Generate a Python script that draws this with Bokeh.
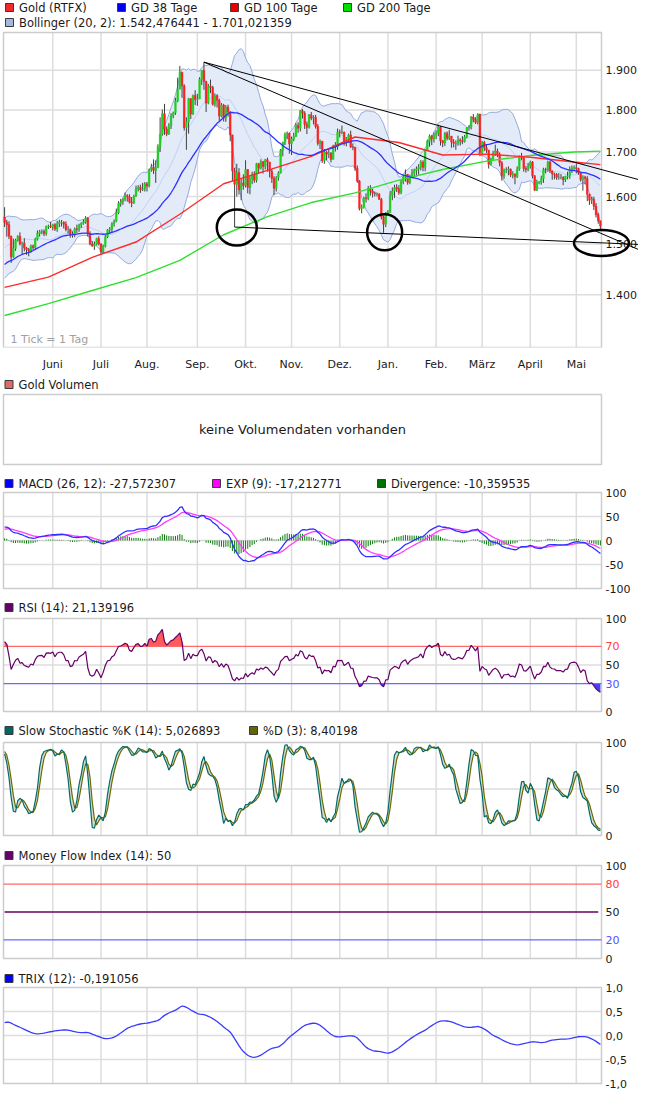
import numpy as np
import pandas as pd
from bokeh.plotting import figure
from bokeh.layouts import column
from bokeh.models import Range1d, FixedTicker, ColumnDataSource
from bokeh.embed import file_html
from bokeh.resources import INLINE
from bokeh.core.properties import value

# ---------------------------------------------------------------- data
first_day = "2011-02-01"      # warm-up for the indicators (not shown)
visible_from = "2011-05-02"
last_day = "2012-05-16"

close = [
    1339,1333,1353,1348,1349,1363,1365,1364,1360,1361,1374,1375,1385,1389,1404,1401,1413,1408,1410,1410,
    1433,1437,1416,1428,1433,1429,1432,1411,1420,1423,1394,1397,1404,1419,1427,1430,1438,1438,1430,1417,1421,1424,1439,
    1428,1436,1451,1459,1459,1474,1465,1455,1457,1473,1486,1492,1495,1503,1505,1504,1507,1503,1520,1535,1556,
    1545,1540,1516,1474,1491,1508,1516,1500,1502,1492,1489,1486,1496,1493,1510,1522,1525,1526,1521,1536,1537,1536,
    1540,1531,1542,1545,1545,1541,1530,1530,1518,1520,1531,1530,1539,1543,1546,1553,1521,1500,1496,1499,1511,1500,
    1484,1496,1515,1529,1530,1542,1547,1565,1585,1588,1594,1602,1600,1588,1586,1601,1617,1620,1615,1616,1628,
    1623,1660,1665,1658,1664,1713,1742,1791,1754,1742,1762,1786,1793,1822,1852,1895,1860,1757,1771,1828,1790,1836,1826,
    1827,1877,1900,1871,1817,1859,1856,1814,1835,1824,1785,1812,1780,1807,1795,1740,1657,1627,1653,1615,1630,1624,
    1660,1620,1640,1650,1636,1673,1663,1678,1667,1682,1677,1656,1640,1618,1642,1652,1704,1722,1741,1744,1719,
    1730,1736,1763,1756,1798,1792,1765,1758,1788,1780,1782,1760,1720,1725,1680,1700,1695,1697,1683,1714,1712,1747,
    1746,1747,1724,1731,1740,1712,1711,1663,1634,1574,1578,1597,1596,1618,1612,1608,1606,1606,1594,1556,1541,1565,
    1566,1603,1612,1620,1617,1609,1633,1643,1649,1631,1645,1652,1658,1661,1665,1677,1665,1704,1725,1737,1730,1740,
    1745,1759,1726,1721,1744,1732,1737,1723,1720,1721,1728,1726,1724,1735,1757,1758,1783,1777,1770,1789,1699,
    1722,1710,1704,1672,1684,1697,1702,1694,1675,1645,1659,1659,1661,1648,1650,1644,1661,1690,1686,1662,1660,1668,
    1677,1646,1614,1631,1631,1639,1660,1659,1677,1657,1650,1649,1642,1642,1642,1637,1644,1645,1660,1663,1664,
    1662,1652,1637,1643,1640,1605,1592,1594,1579,1561,1548,1537,
]
high = [
    1346,1343,1356,1359,1356,1365,1368,1369,1375,1366,1376,1381,1389,1392,1408,1412,1415,1416,1415,1414,
    1436,1440,1438,1434,1445,1437,1436,1433,1425,1433,1425,1404,1408,1423,1436,1435,1440,1447,1439,1430,1424,1428,1440,
    1445,1438,1454,1465,1465,1477,1476,1468,1461,1475,1487,1497,1497,1505,1509,1507,1518,1509,1526,1536,1569,
    1577,1550,1547,1517,1511,1511,1518,1524,1505,1512,1494,1492,1499,1499,1513,1528,1529,1530,1530,1538,1540,1546,
    1542,1543,1548,1550,1550,1547,1547,1537,1532,1526,1534,1540,1542,1545,1551,1558,1556,1526,1506,1505,1513,1516,
    1502,1499,1519,1531,1535,1545,1551,1574,1590,1595,1597,1609,1605,1605,1599,1604,1624,1625,1626,1630,1632,
    1632,1662,1673,1683,1681,1718,1782,1801,1815,1760,1768,1792,1796,1830,1881,1911,1894,1864,1782,1830,1828,1838,1849,
    1840,1882,1900,1921,1873,1865,1876,1860,1841,1839,1828,1817,1815,1812,1813,1797,1739,1664,1673,1663,1640,1649,
    1681,1660,1647,1655,1656,1675,1675,1683,1678,1684,1687,1677,1661,1645,1645,1656,1707,1724,1746,1748,1745,
    1736,1745,1768,1770,1800,1802,1797,1772,1790,1795,1787,1788,1766,1729,1725,1707,1702,1705,1700,1717,1723,1755,
    1753,1762,1747,1735,1743,1750,1720,1712,1669,1636,1583,1600,1607,1623,1625,1617,1611,1609,1605,1597,1559,1567,
    1571,1612,1620,1626,1627,1625,1638,1647,1660,1649,1648,1661,1662,1667,1672,1681,1681,1706,1729,1741,1740,1746,
    1751,1764,1761,1728,1747,1748,1752,1737,1730,1727,1738,1732,1737,1740,1758,1763,1785,1790,1782,1792,1791,
    1726,1726,1716,1705,1687,1703,1717,1708,1699,1679,1662,1665,1667,1662,1656,1651,1667,1692,1698,1690,1668,1675,
    1680,1679,1647,1637,1634,1646,1664,1664,1680,1680,1655,1653,1652,1652,1650,1645,1646,1655,1667,1669,1669,
    1674,1664,1653,1647,1646,1645,1606,1599,1600,1586,1565,1548,
]
low = [
    1330,1328,1330,1345,1340,1345,1357,1355,1354,1354,1358,1369,1373,1381,1388,1395,1398,1403,1400,1399,
    1408,1430,1412,1413,1424,1423,1424,1407,1400,1415,1380,1385,1393,1400,1418,1425,1428,1434,1423,1415,1409,1416,1421,
    1418,1427,1431,1449,1452,1458,1462,1448,1449,1455,1471,1475,1487,1493,1498,1501,1500,1497,1500,1504,1530,
    1535,1515,1510,1462,1472,1486,1505,1497,1478,1485,1478,1475,1482,1488,1490,1507,1515,1520,1516,1517,1531,1533,
    1528,1527,1525,1535,1536,1532,1526,1521,1513,1513,1514,1522,1525,1533,1540,1542,1515,1497,1494,1488,1497,1497,
    1478,1482,1493,1512,1522,1523,1536,1545,1562,1578,1582,1590,1589,1585,1577,1584,1599,1611,1608,1612,1611,
    1611,1620,1655,1650,1630,1664,1700,1738,1740,1737,1740,1754,1780,1788,1819,1851,1830,1750,1705,1743,1778,1788,1812,
    1810,1827,1862,1850,1795,1814,1842,1811,1808,1806,1774,1782,1772,1771,1784,1725,1634,1535,1600,1604,1592,1615,
    1620,1607,1605,1627,1630,1631,1650,1660,1651,1660,1655,1642,1630,1603,1611,1635,1651,1690,1716,1730,1696,
    1693,1725,1735,1745,1748,1779,1754,1742,1755,1775,1765,1755,1715,1707,1675,1673,1681,1686,1676,1685,1701,1705,
    1734,1742,1715,1713,1722,1709,1704,1657,1630,1570,1564,1574,1587,1592,1602,1598,1600,1600,1593,1551,1523,1535,
    1560,1565,1592,1597,1610,1604,1605,1627,1633,1626,1627,1642,1643,1644,1648,1658,1656,1656,1704,1712,1716,1722,
    1730,1737,1715,1711,1714,1727,1728,1710,1711,1705,1715,1715,1718,1722,1732,1750,1753,1770,1766,1765,1690,
    1692,1702,1698,1662,1669,1680,1691,1688,1667,1635,1639,1652,1647,1643,1640,1627,1641,1657,1681,1655,1653,1656,
    1662,1640,1612,1612,1627,1626,1630,1651,1655,1652,1637,1638,1637,1637,1638,1625,1632,1638,1639,1652,1659,
    1651,1648,1633,1613,1627,1590,1582,1584,1571,1555,1542,1527,
]

# GD 100 / GD 200 (day index from 2 May 2011)
ma_idx = [0, 20, 40, 60, 80, 100, 120, 140, 160, 180, 200, 220, 240, 260, 272]
gd100 = [1414, 1434, 1473, 1504, 1562, 1628, 1658, 1690, 1735, 1722, 1693, 1695, 1688, 1677, 1671]
gd200 = [1361, 1383, 1408, 1433, 1467, 1519, 1557, 1587, 1608, 1636, 1660, 1679, 1692, 1700, 1702]

month_labels = ["Juni", "Juli", "Aug.", "Sep.", "Okt.", "Nov.", "Dez.", "Jan.", "Feb.", "März", "April", "Mai"]
price_range = [1303, 2000]
price_ticks = [1400, 1500, 1600, 1700, 1800, 1900]
price_tick_labels = ["1.400", "1.500", "1.600", "1.700", "1.800", "1.900"]
macd_ticks = [-100, -50, 0, 50, 100]
macd_tick_labels = ["-100", "-50", "0", "50", "100"]
pct_ticks = [100, 50, 0]
rsi_ticks = [100, 70, 50, 30, 0]
mfi_ticks = [100, 80, 50, 20, 0]
trix_ticks = [-1.0, -0.5, 0.0, 0.5, 1.0]
trix_tick_labels = ["-1,0", "-0,5", "0,0", "0,5", "1,0"]
rsi_levels = [70, 30]
mfi_levels = [80, 20]
mfi_value = 50

# hand-drawn trend lines and rings (day index, price)
trend_x0 = [91, 91, 105]
trend_y0 = [1921, 1921, 1535]
trend_x1 = [295, 295, 295]
trend_y1 = [1630, 1478, 1498]
ring_x = [106, 173.5, 272.5]
ring_y = [1534, 1524, 1502]
ring_w = [40, 35, 55]
ring_h = [36, 36, 26]

txt_gold = "Gold (RTFX)"
txt_gd38 = "GD 38 Tage"
txt_gd100 = "GD 100 Tage"
txt_gd200 = "GD 200 Tage"
txt_boll = "Bollinger (20, 2): 1.542,476441 - 1.701,021359"
txt_vol = "Gold Volumen"
txt_novol = "keine Volumendaten vorhanden"
txt_macd = "MACD (26, 12): -27,572307"
txt_exp = "EXP (9): -17,212771"
txt_div = "Divergence: -10,359535"
txt_rsi = "RSI (14): 21,139196"
txt_stk = "Slow Stochastic %K (14): 5,026893"
txt_std = "%D (3): 8,40198"
txt_mfi = "Money Flow Index (14): 50"
txt_trix = "TRIX (12): -0,191056"
txt_tick = "1 Tick = 1 Tag"

# ---------------------------------------------------------------- indicators
dates = pd.bdate_range(first_day, last_day)
assert len(dates) == len(close) == len(high) == len(low)
start = int(np.searchsorted(dates, pd.Timestamp(visible_from)))
x_all = np.arange(len(dates)) - start
mstart = [i for i in range(start + 1, len(dates)) if dates[i].month != dates[i - 1].month]
month_idx = [int(x_all[i]) for i in mstart]

c = np.array(close, float)
o = np.r_[c[0], c[:-1]]
h = np.maximum(np.array(high, float), np.maximum(o, c))
l = np.minimum(np.array(low, float), np.minimum(o, c))
cs = pd.Series(c)


def ema(s, n):
    return pd.Series(s).ewm(span=n, adjust=False).mean().values


gd38 = cs.rolling(38).mean().values
bb_mid = cs.rolling(20).mean().values
bb_sd = cs.rolling(20).std(ddof=0).values
bb_up = bb_mid + 2 * bb_sd
bb_lo = bb_mid - 2 * bb_sd
macd = ema(c, 12) - ema(c, 26)
sig = ema(macd, 9)
div = macd - sig
d = np.diff(c, prepend=c[0])
ag = pd.Series(np.where(d > 0, d, 0.0)).ewm(alpha=1 / 14, adjust=False).mean()
al = pd.Series(np.where(d < 0, -d, 0.0)).ewm(alpha=1 / 14, adjust=False).mean()
rsi = (100 - 100 / (1 + ag / al)).values
hh = pd.Series(h).rolling(14).max()
ll = pd.Series(l).rolling(14).min()
fk = 100 * (cs - ll) / (hh - ll)
sk_s = fk.rolling(3).mean()
sdd = sk_s.rolling(3).mean().values
sk = sk_s.values
e3 = ema(ema(ema(c, 12), 12), 12)
trix = np.r_[np.nan, 100 * (e3[1:] / e3[:-1] - 1)]

v = slice(start, None)
xv = x_all[v]

# ---------------------------------------------------------------- geometry / style
FONT = "DejaVu Sans"
FS = "11.5px"
TFS = "11px"
W = 638          # page width used
DL = 3           # left edge of the plotting box
FW = 598         # width of the plotting box
N = len(xv)
ppd = FW / N
x_end = N - 0.5
XA = -0.5 - DL / ppd
XB = x_end + (W - DL - FW) / ppd
GRID = "#dddddd"
FRAME = "#cccccc"
TXT = "#1a1a1a"
RED_T = "#ff4040"
BLUE_T = "#5050ff"


def X(px):
    return XA + px / ppd


class Section:
    def __init__(self, height, d_top, d_h, y0, y1, log=False, axis_h=0):
        frame_h = height - axis_h
        self.log = log
        self.y0, self.y1 = y0, y1
        a0, a1 = (np.log(y0), np.log(y1)) if log else (y0, y1)
        self.k = (a1 - a0) / d_h
        self.top = a1 + d_top * self.k
        bot = a0 - (frame_h - d_top - d_h) * self.k
        ys, ye = (np.exp(bot), np.exp(self.top)) if log else (bot, self.top)
        self.p = figure(frame_width=W, frame_height=frame_h,
                        x_range=Range1d(XA, XB), y_range=Range1d(ys, ye),
                        y_axis_type="log" if log else "linear",
                        x_axis_location="below" if axis_h else None, y_axis_location=None,
                        toolbar_location=None, output_backend="svg", title=None,
                        min_border_left=0, min_border_right=0, min_border_top=0,
                        min_border_bottom=axis_h)
        self.p.grid.visible = False
        self.p.outline_line_color = None

    def Y(self, py):
        val = self.top - py * self.k
        return float(np.exp(val)) if self.log else float(val)

    def box(self, yticks=(), vgrid=True):
        p = self.p
        if vgrid:
            p.segment(x0=month_idx, x1=month_idx, y0=self.y0, y1=self.y1,
                      line_color=GRID, line_width=1.5)
        if len(yticks):
            p.segment(x0=-0.5, x1=x_end, y0=list(yticks), y1=list(yticks),
                      line_color=GRID, line_width=1.5)
        p.quad(left=[-0.5], right=[x_end], bottom=[self.y0], top=[self.y1],
               fill_color=None, line_color=FRAME, line_width=1.5)

    def ylabels(self, ticks, labels, colors=None):
        colors = colors or [TXT] * len(ticks)
        self.p.text(x=[x_end + 4 / ppd] * len(ticks), y=list(ticks), text=list(labels),
                    text_color=colors, text_font=value(FONT), text_font_size=TFS,
                    text_baseline="middle", text_align="left")

    def legend(self, py, items):
        yy = self.Y(py)
        for sq, col, tx, txt in items:
            self.p.rect(x=[X(sq)], y=[yy], width=8, height=8, width_units="screen",
                        height_units="screen", fill_color=col, line_color="#3a3a3a", line_width=1)
            self.p.text(x=[X(tx)], y=[yy], text=[txt], text_font=value(FONT), text_font_size=FS,
                        text_baseline="middle", text_align="left", text_color=TXT)

    def hline(self, level, color, width=1.2, x0=-0.5, x1=None):
        self.p.segment(x0=[x0], x1=[x_end if x1 is None else x1], y0=[level], y1=[level],
                       line_color=color, line_width=width)


# ---------------------------------------------------------------- price section
s0 = Section(369, 32, 315, price_range[0], price_range[1], log=True, axis_h=22)
p0 = s0.p
s0.legend(7, [(9, "#ee2a2a", 18.5, txt_gold), (121, "#0000ee", 130.5, txt_gd38),
              (234, "#ee0000", 243.5, txt_gd100), (347, "#00dd00", 356.5, txt_gd200)])
s0.legend(22, [(9, "#a3b8e0", 18.5, txt_boll)])
s0.box(price_ticks)
s0.ylabels(price_ticks, price_tick_labels)
xa = p0.xaxis[0]
xa.ticker = FixedTicker(ticks=month_idx)
xa.major_label_overrides = {int(t): s for t, s in zip(month_idx, month_labels)}
xa.axis_line_color = None
xa.major_tick_line_color = None
xa.minor_tick_line_color = None
xa.major_label_standoff = 4
xa.major_label_text_font = FONT
xa.major_label_text_font_size = TFS
xa.major_label_text_color = TXT

p0.varea(x=xv, y1=bb_lo[v], y2=bb_up[v], fill_color="#e3ebf9")
p0.line(xv, bb_up[v], line_color="#93aade", line_width=1)
p0.line(xv, bb_lo[v], line_color="#93aade", line_width=1)
p0.line(xv, bb_mid[v], line_color="#bfd1f3", line_width=1)

src = ColumnDataSource(dict(
    x=xv, h=h[v], l=l[v],
    top=np.maximum(o, c)[v], bot=np.minimum(o, c)[v],
    col=np.where(c[v] >= o[v], "#1fd21f", "#ff2020"),
))
p0.segment(x0="x", y0="h", x1="x", y1="l", source=src, line_color="#404040", line_width=1)
p0.vbar(x="x", width=0.72, top="top", bottom="bot", fill_color="col", line_color="col",
        line_width=0.6, source=src)
p0.line(ma_idx, gd200, line_color="#2ee02e", line_width=1.4)
p0.line(ma_idx, gd100, line_color="#ff2a2a", line_width=1.4)
p0.line(xv, gd38[v], line_color="#3030ff", line_width=1.3)
p0.segment(x0=trend_x0, y0=trend_y0, x1=trend_x1, y1=trend_y1, line_color="black", line_width=1)
p0.ellipse(x=ring_x, y=ring_y, width=ring_w, height=ring_h, width_units="screen",
           height_units="screen", fill_color=None, line_color="black", line_width=2.5)
p0.text(x=[X(10)], y=[s0.Y(339)], text=[txt_tick], text_color="#a0a0a0", text_font=value(FONT),
        text_font_size=TFS, text_baseline="middle", text_align="left")

# ---------------------------------------------------------------- volume section
s1 = Section(94, 21, 70, 0, 1)
s1.legend(11, [(8.5, "#e06a6a", 18, txt_vol)])
s1.box(vgrid=False)
s1.p.text(x=[(x_end - 0.5) / 2], y=[0.5], text=[txt_novol], text_font=value(FONT),
          text_font_size="13px", text_align="center", text_baseline="middle", text_color=TXT)

# ---------------------------------------------------------------- MACD section
s2 = Section(128, 25, 96, -100, 100)
s2.legend(16, [(8.5, "#0000ff", 18, txt_macd), (216, "#ff00ff", 225.5, txt_exp),
               (381, "#007000", 390.5, txt_div)])
s2.box([-50, 0, 50])
s2.ylabels(macd_ticks, macd_tick_labels)
s2.p.segment(x0=xv, y0=0, x1=xv, y1=div[v], line_color="#0a7d0a", line_width=1)
s2.p.line(xv, sig[v], line_color="#ff3cff", line_width=1.3)
s2.p.line(xv, macd[v], line_color="#3030ff", line_width=1.3)

# ---------------------------------------------------------------- RSI section
s3 = Section(122, 23, 93, 0, 100)
s3.legend(12, [(8.5, "#660066", 18, txt_rsi)])
s3.box([50])
s3.ylabels(rsi_ticks, [str(t) for t in rsi_ticks], [TXT, RED_T, TXT, BLUE_T, TXT])
rv = rsi[v]
s3.p.varea(x=xv, y1=rsi_levels[0], y2=np.maximum(rv, rsi_levels[0]), fill_color="#ff5a5a")
s3.p.varea(x=xv, y1=np.minimum(rv, rsi_levels[1]), y2=rsi_levels[1], fill_color="#4040ff")
s3.hline(rsi_levels[0], "#ff6a6a")
s3.hline(rsi_levels[1], "#6a6aff")
s3.p.line(xv, rv, line_color="#660066", line_width=1.2)

# ---------------------------------------------------------------- Stochastic section
s4 = Section(124, 25, 93, 0, 100)
s4.legend(13, [(8.5, "#006666", 18, txt_stk), (253, "#666600", 262.5, txt_std)])
s4.box([50])
s4.ylabels(pct_ticks, [str(t) for t in pct_ticks])
s4.p.varea(x=xv, y1=sk[v], y2=sdd[v], fill_color="#d6dad0")
s4.p.line(xv, sdd[v], line_color="#6b6b00", line_width=1.2)
s4.p.line(xv, sk[v], line_color="#006a6a", line_width=1.2)

# ---------------------------------------------------------------- MFI section
s5 = Section(123, 24, 93, 0, 100)
s5.legend(14, [(8.5, "#660066", 18, txt_mfi)])
s5.box()
s5.ylabels(mfi_ticks, [str(t) for t in mfi_ticks], [TXT, RED_T, TXT, BLUE_T, TXT])
s5.hline(mfi_levels[0], "#ff6a6a")
s5.hline(mfi_levels[1], "#6a6aff")
s5.hline(mfi_value, "#660066", width=1.6, x0=xv[0], x1=xv[-2])

# ---------------------------------------------------------------- TRIX section
s6 = Section(125, 23, 96, -1, 1)
s6.legend(14, [(8.5, "#0000ff", 18, txt_trix)])
s6.box([-0.5, 0.0, 0.5])
s6.ylabels(trix_ticks, trix_tick_labels)
s6.p.line(xv, trix[v], line_color="#3a3aff", line_width=1.3)

layout = column(s0.p, s1.p, s2.p, s3.p, s4.p, s5.p, s6.p)

open("out.html", "w").write(file_html(layout, INLINE))
